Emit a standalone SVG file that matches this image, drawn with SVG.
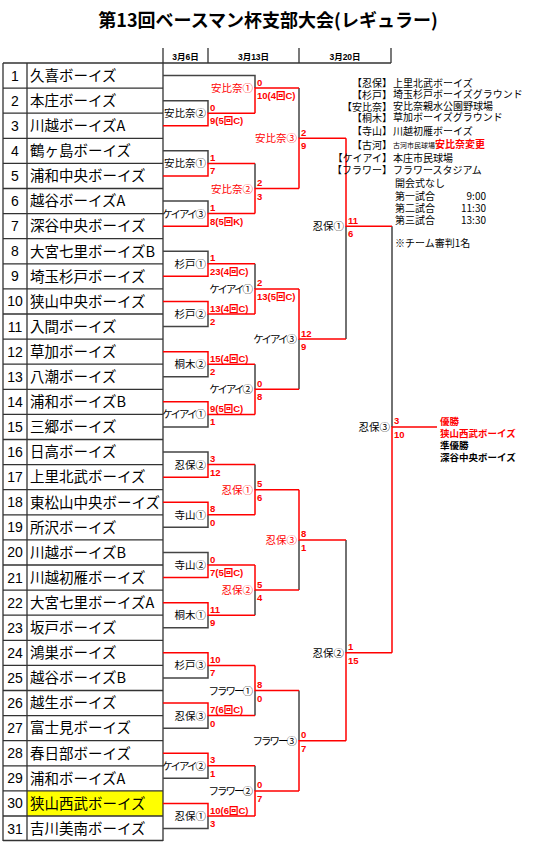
<svg xmlns="http://www.w3.org/2000/svg" width="535" height="842" viewBox="0 0 535 842">
<style>
.tl{stroke:#333;stroke-width:1.3;fill:none}
.lo{stroke:#444;stroke-width:1.5;fill:none}
.wi{stroke:#ff0000;stroke-width:1.5;fill:none}
.num{font-family:"Liberation Sans",Arial,sans-serif;font-size:14px;fill:#000;text-anchor:middle}
.nm{font-family:"Noto Sans CJK JP",sans-serif;font-size:14.5px;fill:#000}
.lb{font-family:"Noto Sans CJK JP",sans-serif;font-size:10.5px;text-anchor:end}
.kt{letter-spacing:-2px}
.lk{fill:#000}
.lr{fill:#ff0000}
.sc{font-family:"Liberation Sans","Noto Sans CJK JP",sans-serif;font-size:9.5px;font-weight:bold;fill:#ff0000}
.lg{font-family:"Noto Sans CJK JP",sans-serif;font-size:10px;fill:#000}
.le{text-anchor:end}
.hd{font-family:"Liberation Sans","Noto Sans CJK JP",sans-serif;font-size:8.5px;font-weight:bold;text-anchor:middle;fill:#000}
.wt{font-family:"Noto Sans CJK JP",sans-serif;font-size:9.5px;font-weight:bold}
</style>
<rect width="535" height="842" fill="#fff"/>
<text x="268" y="27" font-family="'Noto Sans CJK JP',sans-serif" font-size="18" font-weight="bold" text-anchor="middle" fill="#000">第13回ベースマン杯支部大会(レギュラー)</text>
<g id="header">
<path class="tl" d="M163,48V63M208,48V63M299,48V63M391,48V63M163,63H391"/>
<text class="hd" x="185.5" y="60">3月6日</text>
<text class="hd" x="253.5" y="60">3月13日</text>
<text class="hd" x="345" y="60">3月20日</text>
</g>
<g id="table">
<rect x="27" y="790.9" width="136" height="25.1" fill="#ffff00"/>
<path class="tl" d="M3,63V841M27,63V841M163,63V841M3,63H163M3,88.1H163M3,113.2H163M3,138.3H163M3,163.4H163M3,188.5H163M3,213.6H163M3,238.7H163M3,263.8H163M3,288.9H163M3,314H163M3,339.1H163M3,364.2H163M3,389.3H163M3,414.4H163M3,439.5H163M3,464.6H163M3,489.7H163M3,514.8H163M3,539.9H163M3,565H163M3,590.1H163M3,615.2H163M3,640.3H163M3,665.4H163M3,690.5H163M3,715.6H163M3,740.7H163M3,765.8H163M3,790.9H163M3,816H163M3,840.5H163"/>
</g>
<g id="team-1"><text class="num" x="15" y="80.5">1</text><text class="nm" x="30" y="80.85">久喜ボーイズ</text></g>
<g id="team-2"><text class="num" x="15" y="105.6">2</text><text class="nm" x="30" y="105.95">本庄ボーイズ</text></g>
<g id="team-3"><text class="num" x="15" y="130.7">3</text><text class="nm" x="30" y="131.05">川越ボーイズA</text></g>
<g id="team-4"><text class="num" x="15" y="155.8">4</text><text class="nm" x="30" y="156.15">鶴ヶ島ボーイズ</text></g>
<g id="team-5"><text class="num" x="15" y="180.9">5</text><text class="nm" x="30" y="181.25">浦和中央ボーイズ</text></g>
<g id="team-6"><text class="num" x="15" y="206">6</text><text class="nm" x="30" y="206.35">越谷ボーイズA</text></g>
<g id="team-7"><text class="num" x="15" y="231.1">7</text><text class="nm" x="30" y="231.45">深谷中央ボーイズ</text></g>
<g id="team-8"><text class="num" x="15" y="256.2">8</text><text class="nm" x="30" y="256.55">大宮七里ボーイズB</text></g>
<g id="team-9"><text class="num" x="15" y="281.3">9</text><text class="nm" x="30" y="281.65">埼玉杉戸ボーイズ</text></g>
<g id="team-10"><text class="num" x="15" y="306.4">10</text><text class="nm" x="30" y="306.75">狭山中央ボーイズ</text></g>
<g id="team-11"><text class="num" x="15" y="331.5">11</text><text class="nm" x="30" y="331.85">入間ボーイズ</text></g>
<g id="team-12"><text class="num" x="15" y="356.6">12</text><text class="nm" x="30" y="356.95">草加ボーイズ</text></g>
<g id="team-13"><text class="num" x="15" y="381.7">13</text><text class="nm" x="30" y="382.05">八潮ボーイズ</text></g>
<g id="team-14"><text class="num" x="15" y="406.8">14</text><text class="nm" x="30" y="407.15">浦和ボーイズB</text></g>
<g id="team-15"><text class="num" x="15" y="431.9">15</text><text class="nm" x="30" y="432.25">三郷ボーイズ</text></g>
<g id="team-16"><text class="num" x="15" y="457">16</text><text class="nm" x="30" y="457.35">日高ボーイズ</text></g>
<g id="team-17"><text class="num" x="15" y="482.1">17</text><text class="nm" x="30" y="482.45">上里北武ボーイズ</text></g>
<g id="team-18"><text class="num" x="15" y="507.2">18</text><text class="nm" x="30" y="507.55">東松山中央ボーイズ</text></g>
<g id="team-19"><text class="num" x="15" y="532.3">19</text><text class="nm" x="30" y="532.65">所沢ボーイズ</text></g>
<g id="team-20"><text class="num" x="15" y="557.4">20</text><text class="nm" x="30" y="557.75">川越ボーイズB</text></g>
<g id="team-21"><text class="num" x="15" y="582.5">21</text><text class="nm" x="30" y="582.85">川越初雁ボーイズ</text></g>
<g id="team-22"><text class="num" x="15" y="607.6">22</text><text class="nm" x="30" y="607.95">大宮七里ボーイズA</text></g>
<g id="team-23"><text class="num" x="15" y="632.7">23</text><text class="nm" x="30" y="633.05">坂戸ボーイズ</text></g>
<g id="team-24"><text class="num" x="15" y="657.8">24</text><text class="nm" x="30" y="658.15">鴻巣ボーイズ</text></g>
<g id="team-25"><text class="num" x="15" y="682.9">25</text><text class="nm" x="30" y="683.25">越谷ボーイズB</text></g>
<g id="team-26"><text class="num" x="15" y="708">26</text><text class="nm" x="30" y="708.35">越生ボーイズ</text></g>
<g id="team-27"><text class="num" x="15" y="733.1">27</text><text class="nm" x="30" y="733.45">富士見ボーイズ</text></g>
<g id="team-28"><text class="num" x="15" y="758.2">28</text><text class="nm" x="30" y="758.55">春日部ボーイズ</text></g>
<g id="team-29"><text class="num" x="15" y="783.3">29</text><text class="nm" x="30" y="783.65">浦和ボーイズA</text></g>
<g id="team-30"><text class="num" x="15" y="808.4">30</text><text class="nm" x="30" y="808.75">狭山西武ボーイズ</text></g>
<g id="team-31"><text class="num" x="15" y="833.5">31</text><text class="nm" x="30" y="833.85">吉川美南ボーイズ</text></g>
<g id="connectors">
<path class="lo" d="M163,100.65H208V113.2M163,150.85H208V163.4M163,201.05H208V213.6M163,251.25H208V263.8M163,326.55H208V314M163,376.75H208V364.2M163,426.95H208V414.4M163,452.05H208V464.6M163,527.35H208V514.8M163,552.45H208V565M163,627.75H208V615.2M163,677.95H208V665.4M163,728.15H208V715.6M163,778.35H208V765.8M163,828.55H208V816"/>
<path class="lo" d="M163,75.55H255V88.1M255,163.4V188.5M255,263.8V288.9M255,364.2V389.3M255,464.6V489.7M255,615.2V590.1M255,715.6V690.5M255,765.8V790.9"/>
<path class="lo" d="M299,88.1V138.3M299,389.3V339.1M299,590.1V539.9M299,690.5V740.7M346,339.1V226.15M346,539.9V652.85M392,226.15V426.95"/>
<path class="wi" d="M163,125.75H208V113.2H255M163,175.95H208V163.4H255M163,226.15H208V213.6H255M163,276.35H208V263.8H255M163,301.45H208V314H255M163,351.65H208V364.2H255M163,401.85H208V414.4H255M163,477.15H208V464.6H255M163,502.25H208V514.8H255M163,577.55H208V565H255M163,602.65H208V615.2H255M163,652.85H208V665.4H255M163,703.05H208V715.6H255M163,753.25H208V765.8H255M163,803.45H208V816H255"/>
<path class="wi" d="M255,113.2V88.1H299M255,213.6V188.5H299M255,314V288.9H299M255,414.4V389.3H299M255,514.8V489.7H299M255,565V590.1H299M255,665.4V690.5H299M255,816V790.9H299"/>
<path class="wi" d="M299,188.5V138.3H346M299,288.9V339.1H346M299,489.7V539.9H346M299,790.9V740.7H346M346,138.3V226.15H392M346,740.7V652.85H392M392,652.85V426.95H437"/>
</g>
<g id="r1-1"><text class="lb lk" x="206" y="117.2">安比奈②</text><text class="sc" x="210" y="110.7">0</text><text class="sc" x="210" y="124.2">9(5回C)</text></g>
<g id="r1-2"><text class="lb lk" x="206" y="167.4">安比奈①</text><text class="sc" x="210" y="160.9">1</text><text class="sc" x="210" y="174.4">7</text></g>
<g id="r1-3"><text class="lb lk kt" x="204" y="217.6">ケイアイ③</text><text class="sc" x="210" y="211.1">1</text><text class="sc" x="210" y="224.6">8(5回K)</text></g>
<g id="r1-4"><text class="lb lk" x="206" y="267.8">杉戸①</text><text class="sc" x="210" y="261.3">1</text><text class="sc" x="210" y="274.8">23(4回C)</text></g>
<g id="r1-5"><text class="lb lk" x="206" y="318">杉戸②</text><text class="sc" x="210" y="311.5">13(4回C)</text><text class="sc" x="210" y="325">2</text></g>
<g id="r1-6"><text class="lb lk" x="206" y="368.2">桐木②</text><text class="sc" x="210" y="361.7">15(4回C)</text><text class="sc" x="210" y="375.2">2</text></g>
<g id="r1-7"><text class="lb lk kt" x="204" y="418.4">ケイアイ①</text><text class="sc" x="210" y="411.9">9(5回C)</text><text class="sc" x="210" y="425.4">1</text></g>
<g id="r1-8"><text class="lb lk" x="206" y="468.6">忍保②</text><text class="sc" x="210" y="462.1">3</text><text class="sc" x="210" y="475.6">12</text></g>
<g id="r1-9"><text class="lb lk" x="206" y="518.8">寺山①</text><text class="sc" x="210" y="512.3">8</text><text class="sc" x="210" y="525.8">0</text></g>
<g id="r1-10"><text class="lb lk" x="206" y="569">寺山②</text><text class="sc" x="210" y="562.5">0</text><text class="sc" x="210" y="576">7(5回C)</text></g>
<g id="r1-11"><text class="lb lk" x="206" y="619.2">桐木①</text><text class="sc" x="210" y="612.7">11</text><text class="sc" x="210" y="626.2">9</text></g>
<g id="r1-12"><text class="lb lk" x="206" y="669.4">杉戸③</text><text class="sc" x="210" y="662.9">10</text><text class="sc" x="210" y="676.4">7</text></g>
<g id="r1-13"><text class="lb lk" x="206" y="719.6">忍保③</text><text class="sc" x="210" y="713.1">7(6回C)</text><text class="sc" x="210" y="726.6">0</text></g>
<g id="r1-14"><text class="lb lk kt" x="204" y="769.8">ケイアイ②</text><text class="sc" x="210" y="763.3">3</text><text class="sc" x="210" y="776.8">1</text></g>
<g id="r1-15"><text class="lb lk" x="206" y="820">忍保①</text><text class="sc" x="210" y="813.5">10(6回C)</text><text class="sc" x="210" y="827">3</text></g>
<g id="r2-1"><text class="lb lr" x="253" y="92.1">安比奈①</text><text class="sc" x="257" y="85.6">0</text><text class="sc" x="257" y="99.1">10(4回C)</text></g>
<g id="r2-2"><text class="lb lr" x="253" y="192.5">安比奈②</text><text class="sc" x="257" y="186">2</text><text class="sc" x="257" y="199.5">3</text></g>
<g id="r2-3"><text class="lb lk kt" x="251" y="292.9">ケイアイ①</text><text class="sc" x="257" y="286.4">2</text><text class="sc" x="257" y="299.9">13(5回C)</text></g>
<g id="r2-4"><text class="lb lk kt" x="251" y="393.3">ケイアイ②</text><text class="sc" x="257" y="386.8">0</text><text class="sc" x="257" y="400.3">8</text></g>
<g id="r2-5"><text class="lb lr" x="253" y="493.7">忍保①</text><text class="sc" x="257" y="487.2">5</text><text class="sc" x="257" y="500.7">6</text></g>
<g id="r2-6"><text class="lb lr" x="253" y="594.1">忍保②</text><text class="sc" x="257" y="587.6">5</text><text class="sc" x="257" y="601.1">4</text></g>
<g id="r2-7"><text class="lb lk kt" x="251" y="694.5">フラワー①</text><text class="sc" x="257" y="688">8</text><text class="sc" x="257" y="701.5">0</text></g>
<g id="r2-8"><text class="lb lk kt" x="251" y="794.9">フラワー②</text><text class="sc" x="257" y="788.4">0</text><text class="sc" x="257" y="801.9">7</text></g>
<g id="r3-1"><text class="lb lr" x="297" y="142.3">安比奈③</text><text class="sc" x="301" y="135.8">2</text><text class="sc" x="301" y="149.3">9</text></g>
<g id="r3-2"><text class="lb lk kt" x="295" y="343.1">ケイアイ③</text><text class="sc" x="301" y="336.6">12</text><text class="sc" x="301" y="350.1">9</text></g>
<g id="r3-3"><text class="lb lr" x="297" y="543.9">忍保③</text><text class="sc" x="301" y="537.4">8</text><text class="sc" x="301" y="550.9">1</text></g>
<g id="r3-4"><text class="lb lk kt" x="295" y="744.7">フラワー③</text><text class="sc" x="301" y="738.2">0</text><text class="sc" x="301" y="751.7">7</text></g>
<g id="r4-1"><text class="lb lk" x="344" y="230.15">忍保①</text><text class="sc" x="348" y="223.65">11</text><text class="sc" x="348" y="237.15">6</text></g>
<g id="r4-2"><text class="lb lk" x="344" y="656.85">忍保②</text><text class="sc" x="348" y="650.35">1</text><text class="sc" x="348" y="663.85">15</text></g>
<g id="final"><text class="lb lk" x="390" y="430.95">忍保③</text><text class="sc" x="394" y="424.45">3</text><text class="sc" x="394" y="437.95">10</text></g>
<g id="result">
<text class="wt" x="440" y="424.5" fill="#ff0000">優勝</text>
<text class="wt" x="440" y="436.5" fill="#ff0000">狭山西武ボーイズ</text>
<text class="wt" x="440" y="448.5" fill="#000">準優勝</text>
<text class="wt" x="440" y="461" fill="#000">深谷中央ボーイズ</text>
</g>
<g id="legend">
<text class="lg le" x="392" y="86.5">【忍保】</text><text class="lg" x="393" y="86.5">上里北武ボーイズ</text>
<text class="lg le" x="392" y="98.5">【杉戸】</text><text class="lg" x="393" y="97.8" font-size="6.5">埼玉杉戸ボーイズグラウンド</text>
<text class="lg le" x="392" y="110.5">【安比奈】</text><text class="lg" x="393" y="110" font-size="9">安比奈親水公園野球場</text>
<text class="lg le" x="392" y="121.5">【桐木】</text><text class="lg" x="393" y="121" font-size="7.6">草加ボーイズグラウンド</text>
<text class="lg le" x="392" y="134.5">【寺山】</text><text class="lg" x="393" y="134.5">川越初雁ボーイズ</text>
<text class="lg le" x="392" y="148.5">【古河】</text><text class="lg" x="393" y="148"><tspan font-size="7">古河市民球場</tspan><tspan fill="#ff0000" font-weight="bold">安比奈変更</tspan></text>
<text class="lg le" x="392" y="161.5">【ケイアイ】</text><text class="lg" x="393" y="161.5">本庄市民球場</text>
<text class="lg le" x="392" y="173.5">【フラワー】</text><text class="lg" x="393" y="173.5" font-size="9.5">フラワースタジアム</text>
<text class="lg" x="395" y="186.5" font-size="9.5">開会式なし</text>
<text class="lg" x="395" y="199.5">第一試合</text><text class="lg le" x="486" y="199.5">9:00</text>
<text class="lg" x="395" y="211.5">第二試合</text><text class="lg le" x="486" y="211.5">11:30</text>
<text class="lg" x="395" y="224">第三試合</text><text class="lg le" x="486" y="224">13:30</text>
<text class="lg" x="395" y="246.5">※チーム審判1名</text>
</g>
</svg>
